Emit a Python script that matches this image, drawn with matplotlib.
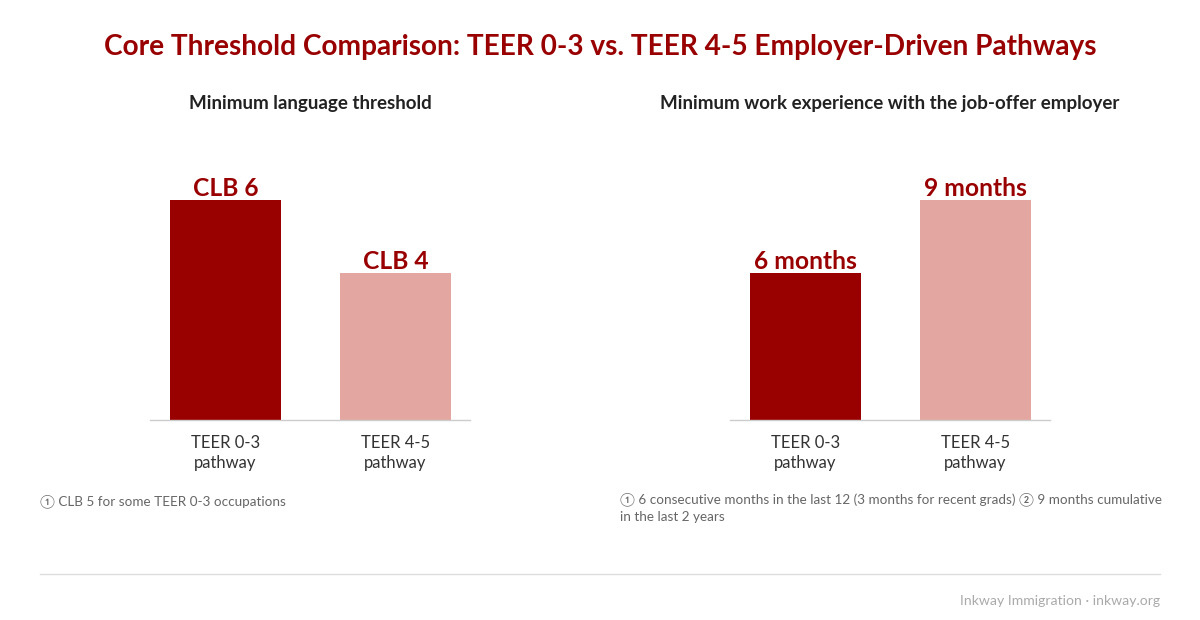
import matplotlib
matplotlib.use("Agg")
import matplotlib.pyplot as plt

plt.rcParams['font.family'] = ['Lato', 'DejaVu Sans']

categories = ["TEER 0-3\npathway", "TEER 4-5\npathway"]
lang_values = [6, 4]
lang_labels = ["CLB 6", "CLB 4"]
work_values = [6, 9]
work_labels = ["6 months", "9 months"]
bar_colors = ["#990000", "#e3a6a0"]

title = "Core Threshold Comparison: TEER 0-3 vs. TEER 4-5 Employer-Driven Pathways"
sub_left = "Minimum language threshold"
sub_right = "Minimum work experience with the job-offer employer"
note_left = "\u2460 CLB 5 for some TEER 0-3 occupations"
note_right = ("\u2460 6 consecutive months in the last 12 (3 months for recent grads) \u2461 9 months cumulative\n"
              "in the last 2 years")
source = "Inkway Immigration \u00b7 inkway.org"

W, H = 1200, 620
fig = plt.figure(figsize=(W / 100, H / 100), dpi=100)
fig.patch.set_facecolor("white")


def fx(px):
    return px / W


def fy(py):
    return 1 - py / H


def panel(left_px, values, labels, ymax):
    ax = fig.add_axes([fx(left_px), fy(420), fx(320), (420 - 160) / H])
    x = list(range(len(values)))
    ax.bar(x, values, width=0.653, color=bar_colors)
    for xi, v, lab in zip(x, values, labels):
        ax.text(xi, v, lab, ha="center", va="bottom", fontsize=17.7, fontweight="bold",
                color="#990000")
    ax.set_xlim(-0.444, 1.438)
    ax.set_ylim(0, ymax)
    ax.set_xticks(x)
    ax.set_xticklabels(categories, fontsize=12, color="#333333", linespacing=1.3)
    ax.tick_params(axis="x", length=0, pad=11)
    ax.set_yticks([])
    for s in ["top", "right", "left"]:
        ax.spines[s].set_visible(False)
    ax.spines["bottom"].set_color("#cccccc")
    ax.spines["bottom"].set_linewidth(1)
    return ax


panel(150, lang_values, lang_labels, 7.09)
panel(730, work_values, work_labels, 10.64)

fig.text(0.5, fy(47), title, ha="center", va="center", fontsize=20.2, fontweight="bold",
         color="#990000")
fig.text(fx(310), fy(103), sub_left, ha="center", va="center", fontsize=13.5,
         fontweight="bold", color="#222222")
fig.text(fx(890), fy(103), sub_right, ha="center", va="center", fontsize=13.5,
         fontweight="bold", color="#222222")
fig.text(fx(40), fy(501), note_left, ha="left", va="center", fontsize=9.7, color="#666666")
fig.text(fx(620), fy(492), note_right, ha="left", va="top", fontsize=9.7, color="#666666",
         linespacing=1.5)

fig.add_artist(plt.Line2D([fx(40), fx(1160)], [fy(574), fy(574)], color="#dddddd", lw=1))
fig.text(fx(1160), fy(601), source, ha="right", va="center", fontsize=10.1, color="#aaaaaa")

fig.savefig("out.png", dpi=100, facecolor="white")
